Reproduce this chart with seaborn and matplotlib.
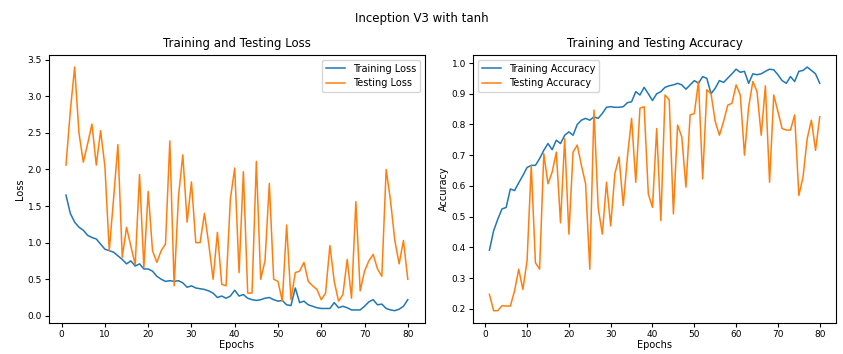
import numpy as np
import pandas as pd
import matplotlib
matplotlib.use("Agg")
import matplotlib.pyplot as plt
import seaborn as sns

epochs = list(range(1, 81))

train_loss = [1.65, 1.40, 1.28, 1.21, 1.17, 1.10, 1.07, 1.05, 0.98, 0.91,
              0.89, 0.87, 0.82, 0.77, 0.71, 0.75, 0.68, 0.71, 0.64, 0.64,
              0.61, 0.54, 0.50, 0.47, 0.48, 0.47, 0.48, 0.45, 0.39, 0.41,
              0.38, 0.37, 0.36, 0.34, 0.31, 0.25, 0.27, 0.24, 0.27, 0.35,
              0.27, 0.29, 0.24, 0.22, 0.21, 0.22, 0.24, 0.25, 0.22, 0.20,
              0.21, 0.15, 0.14, 0.38, 0.18, 0.20, 0.15, 0.13, 0.11, 0.10,
              0.10, 0.10, 0.18, 0.11, 0.13, 0.11, 0.08, 0.08, 0.08, 0.13,
              0.19, 0.22, 0.15, 0.16, 0.10, 0.08, 0.07, 0.09, 0.13, 0.22]

test_loss = [2.06, 2.80, 3.40, 2.50, 2.10, 2.35, 2.62, 2.06, 2.53, 2.04,
             0.89, 1.60, 2.34, 0.80, 1.21, 0.95, 0.70, 1.93, 0.66, 1.70,
             0.89, 0.73, 0.89, 0.98, 2.39, 0.41, 1.63, 2.20, 1.28, 1.83,
             1.00, 1.00, 1.40, 0.98, 0.50, 1.14, 0.43, 0.41, 1.60, 2.02,
             0.59, 1.97, 0.31, 0.31, 2.11, 0.50, 0.75, 1.81, 0.50, 0.47,
             0.20, 1.24, 0.22, 0.59, 0.61, 0.73, 0.47, 0.41, 0.36, 0.22,
             0.31, 0.96, 0.47, 0.20, 0.29, 0.77, 0.24, 1.56, 0.34, 0.61,
             0.75, 0.84, 0.64, 0.54, 2.00, 1.58, 1.03, 0.71, 1.03, 0.50]

train_acc = [0.391, 0.454, 0.492, 0.525, 0.530, 0.590, 0.585, 0.610, 0.634, 0.660,
             0.667, 0.667, 0.689, 0.716, 0.738, 0.718, 0.749, 0.738, 0.765, 0.776,
             0.765, 0.800, 0.814, 0.820, 0.814, 0.825, 0.820, 0.836, 0.856, 0.858,
             0.856, 0.856, 0.858, 0.871, 0.874, 0.907, 0.896, 0.921, 0.900, 0.878,
             0.900, 0.907, 0.921, 0.926, 0.929, 0.934, 0.929, 0.915, 0.929, 0.943,
             0.934, 0.956, 0.950, 0.900, 0.918, 0.943, 0.937, 0.951, 0.965, 0.980,
             0.970, 0.973, 0.934, 0.965, 0.962, 0.965, 0.973, 0.980, 0.978, 0.962,
             0.943, 0.934, 0.956, 0.940, 0.973, 0.976, 0.987, 0.976, 0.965, 0.934]

test_acc = [0.247, 0.194, 0.194, 0.210, 0.209, 0.209, 0.258, 0.329, 0.263, 0.356,
            0.667, 0.350, 0.329, 0.705, 0.607, 0.645, 0.710, 0.480, 0.754, 0.443,
            0.710, 0.733, 0.667, 0.607, 0.329, 0.847, 0.530, 0.443, 0.612, 0.470,
            0.640, 0.694, 0.536, 0.694, 0.820, 0.612, 0.853, 0.858, 0.574, 0.530,
            0.787, 0.487, 0.896, 0.880, 0.509, 0.798, 0.760, 0.596, 0.831, 0.836,
            0.940, 0.623, 0.913, 0.900, 0.810, 0.765, 0.810, 0.863, 0.869, 0.929,
            0.896, 0.700, 0.858, 0.940, 0.907, 0.765, 0.926, 0.612, 0.896, 0.842,
            0.787, 0.782, 0.782, 0.831, 0.569, 0.629, 0.754, 0.814, 0.716, 0.825]

loss_df = pd.DataFrame({"Epochs": epochs * 2,
                        "value": train_loss + test_loss,
                        "series": ["Training Loss"] * 80 + ["Testing Loss"] * 80})
acc_df = pd.DataFrame({"Epochs": epochs * 2,
                       "value": train_acc + test_acc,
                       "series": ["Training Accuracy"] * 80 + ["Testing Accuracy"] * 80})

fig = plt.figure(figsize=(8.43, 3.54), dpi=100)
ax1 = fig.add_axes([0.058, 0.088, 0.446, 0.757])
ax2 = fig.add_axes([0.561, 0.088, 0.431, 0.757])

pal = ["#1f77b4", "#ff7f0e"]
sns.lineplot(data=loss_df, x="Epochs", y="value", hue="series", palette=pal,
             ax=ax1, linewidth=1.1)
sns.lineplot(data=acc_df, x="Epochs", y="value", hue="series", palette=pal,
             ax=ax2, linewidth=1.1)

ax1.set_title("Training and Testing Loss", fontsize=8.5)
ax1.set_xlabel("Epochs", fontsize=7, labelpad=1)
ax1.set_ylabel("Loss", fontsize=7, labelpad=2)
ax1.set_yticks([0.0, 0.5, 1.0, 1.5, 2.0, 2.5, 3.0, 3.5])
ax1.legend(loc="upper right", fontsize=7, frameon=True)

ax2.set_title("Training and Testing Accuracy", fontsize=8.5)
ax2.set_xlabel("Epochs", fontsize=7, labelpad=1)
ax2.set_ylabel("Accuracy", fontsize=7, labelpad=2)
ax2.set_yticks([0.2, 0.3, 0.4, 0.5, 0.6, 0.7, 0.8, 0.9, 1.0])
ax2.legend(loc="upper left", fontsize=7, frameon=True)

for ax in (ax1, ax2):
    ax.set_xticks([0, 10, 20, 30, 40, 50, 60, 70, 80])
    ax.tick_params(labelsize=6.5, length=3, pad=2)

fig.suptitle("Inception V3 with tanh", fontsize=8.5, y=0.965)
fig.savefig("out.png", dpi=100)
